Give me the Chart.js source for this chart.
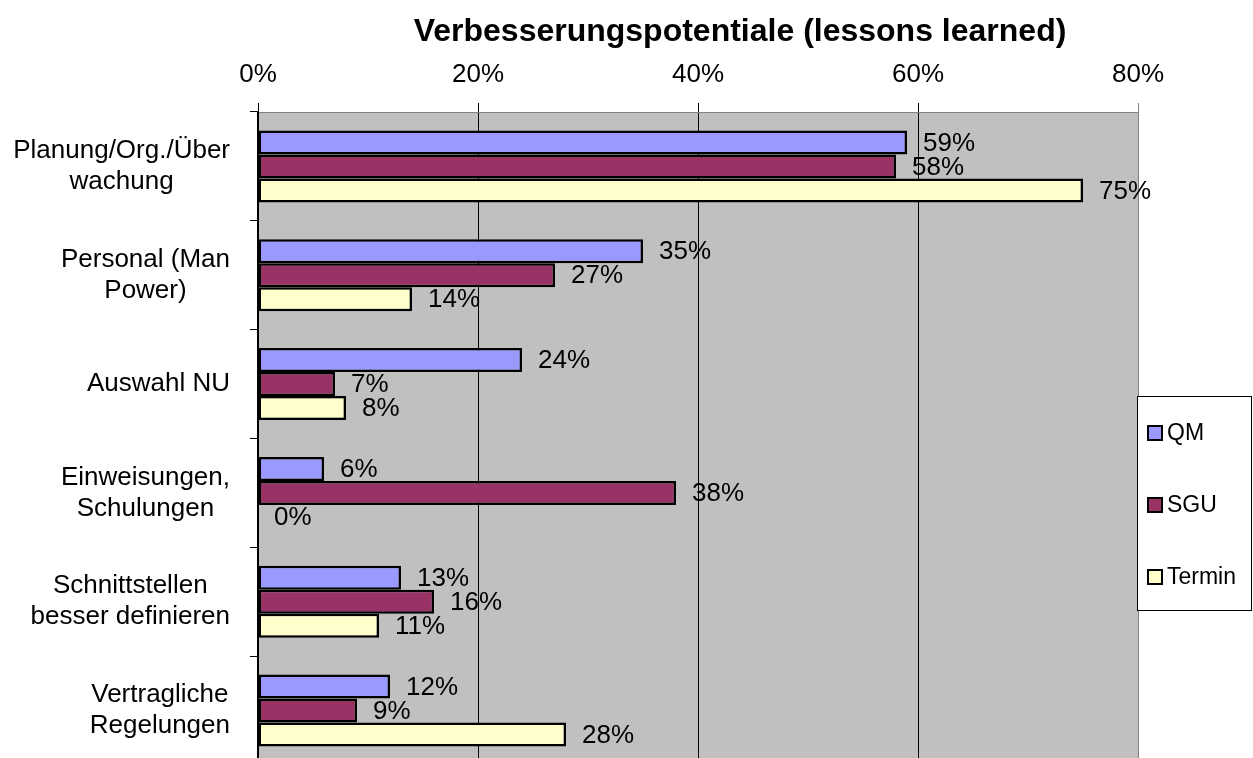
<!DOCTYPE html>
<html>
<head>
<meta charset="utf-8">
<script src="https://cdn.jsdelivr.net/npm/chart.js@4/dist/chart.umd.min.js"></script>
<style>
  html, body { margin: 0; padding: 0; background: #fff; overflow: hidden; }
  canvas { display: block; }
</style>
</head>
<body>
<canvas id="chart" width="1253" height="766"></canvas>
<script>
const TITLE = 'Verbesserungspotentiale (lessons learned)';
const CATEGORIES = [
  ['Planung/Org./Über', 'wachung'],
  ['Personal (Man', 'Power)'],
  ['Auswahl NU'],
  ['Einweisungen,', 'Schulungen'],
  ['Schnittstellen', 'besser definieren'],
  ['Vertragliche', 'Regelungen'],
];
const SERIES = ['QM', 'SGU', 'Termin'];
const QM = [59, 35, 24, 6, 13, 12];
const SGU = [58, 27, 7, 38, 16, 9];
const TERMIN = [75, 14, 8, 0, 11, 28];
const COLORS = ['#9999FF', '#993366', '#FFFFCC'];
const X_MAX = 80;
const X_STEP = 20;

const FONT = "'Liberation Sans', Arial, sans-serif";

// gray plot background
const plotBg = {
  id: 'plotBg',
  beforeDraw(chart) {
    const { ctx, chartArea: a } = chart;
    ctx.save();
    ctx.fillStyle = '#C0C0C0';
    ctx.fillRect(a.left, a.top, a.right - a.left, a.bottom - a.top);
    ctx.restore();
  },
};

// title, category labels, value labels and the boxed legend
const extras = {
  id: 'extras',
  afterDatasetsDraw(chart) {
    const { ctx } = chart;
    ctx.save();
    ctx.fillStyle = '#000';
    ctx.font = `26px ${FONT}`;
    ctx.textBaseline = 'middle';
    ctx.textAlign = 'left';
    chart.data.datasets.forEach((ds, i) => {
      chart.getDatasetMeta(i).data.forEach((bar, j) => {
        ctx.fillText(Math.round(ds.data[j]) + '%', bar.x + 16, bar.y + 1);
      });
    });
    ctx.restore();
  },
  afterDraw(chart) {
    const { ctx } = chart;
    const y = chart.scales.y;
    ctx.save();
    ctx.fillStyle = '#000';

    ctx.font = `bold 32px ${FONT}`;
    ctx.textAlign = 'center';
    ctx.textBaseline = 'alphabetic';
    ctx.fillText(TITLE, 740, 41);

    ctx.font = `26px ${FONT}`;
    ctx.textBaseline = 'middle';
    const right = 230;
    const lh = 31;
    CATEGORIES.forEach((lines, i) => {
      const w = Math.max(...lines.map((l) => ctx.measureText(l).width));
      const cx = right - w / 2;
      const cy = y.getPixelForValue(i);
      lines.forEach((l, k) => {
        ctx.fillText(l, cx, cy + (k - (lines.length - 1) / 2) * lh);
      });
    });

    // legend
    ctx.fillStyle = '#fff';
    ctx.fillRect(1137, 396, 115, 215);
    ctx.strokeStyle = '#000';
    ctx.lineWidth = 1;
    ctx.strokeRect(1137.5, 396.5, 114, 214);
    ctx.font = `23px ${FONT}`;
    ctx.textAlign = 'left';
    SERIES.forEach((name, i) => {
      const cy = 433 + i * 72;
      ctx.fillStyle = COLORS[i];
      ctx.fillRect(1148, cy - 7, 14, 14);
      ctx.strokeStyle = '#000';
      ctx.lineWidth = 2;
      ctx.strokeRect(1148, cy - 7, 14, 14);
      ctx.fillStyle = '#000';
      ctx.fillText(name, 1167, cy + 1);
    });
    ctx.restore();
  },
};

new Chart(document.getElementById('chart'), {
  type: 'bar',
  data: {
    labels: CATEGORIES.map((c) => c.join(' ')),
    datasets: [QM, SGU, TERMIN].map((d, i) => ({
      label: SERIES[i],
      data: d,
      backgroundColor: COLORS[i],
      borderColor: '#000',
      borderWidth: 2.5,
      borderSkipped: false,
      barPercentage: 1,
      categoryPercentage: 0.662,
    })),
  },
  options: {
    indexAxis: 'y',
    responsive: false,
    animation: false,
    layout: { padding: { left: 0, right: 115, top: 0, bottom: 1 } },
    plugins: {
      legend: { display: false },
      title: { display: false },
      tooltip: { enabled: false },
    },
    scales: {
      x: {
        position: 'top',
        min: 0,
        max: X_MAX,
        afterFit: (s) => { s.height = 112; },
        ticks: {
          stepSize: X_STEP,
          color: '#000',
          padding: 13,
          font: { family: FONT, size: 26 },
          callback: (v) => v + '%',
        },
        grid: {
          color: (c) => (c.tick && c.tick.value === X_MAX ? '#808080' : '#000'),
          lineWidth: 1,
          tickLength: 9,
        },
        border: { color: '#808080', width: 1 },
      },
      y: {
        afterFit: (s) => { s.width = 258; },
        ticks: { display: false },
        grid: {
          drawOnChartArea: false,
          drawTicks: true,
          tickLength: 8,
          color: '#000',
          offset: true,
        },
        border: { color: '#000', width: 2 },
      },
    },
  },
  plugins: [plotBg, extras],
});
</script>
</body>
</html>
